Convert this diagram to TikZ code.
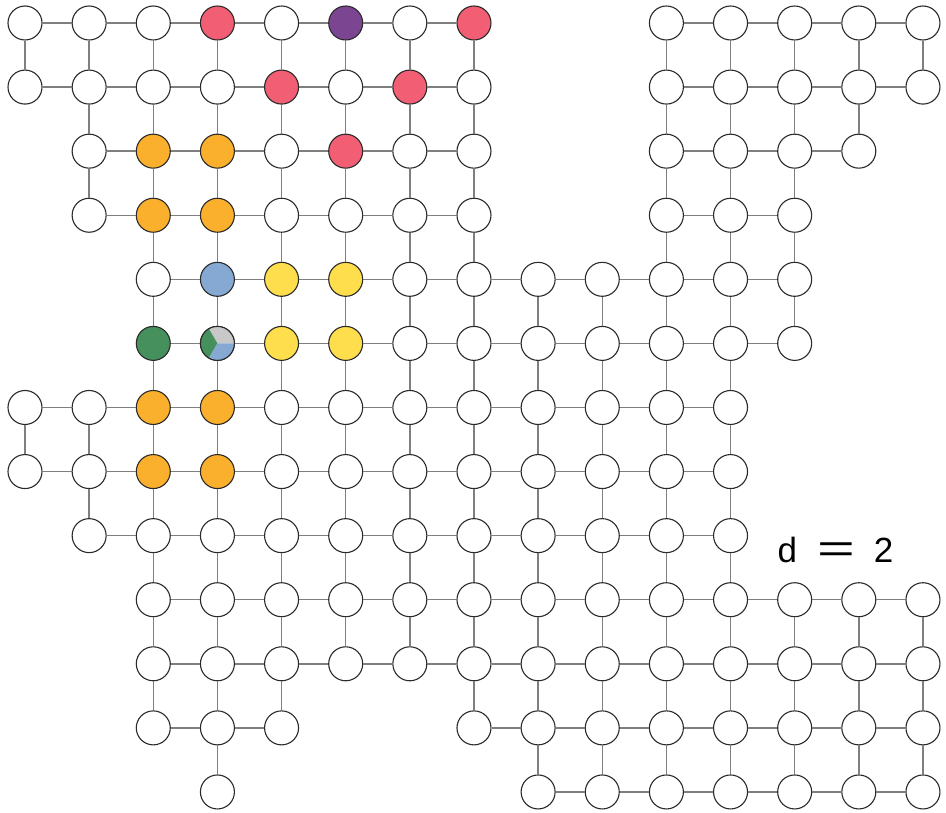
\documentclass[tikz,border=0pt]{standalone}
\usepackage{fontspec}
\newfontfamily\lblfont{Liberation Sans}
\definecolor{pinkc}{HTML}{F25F74}
\definecolor{purplec}{HTML}{7B4592}
\definecolor{orangec}{HTML}{FBB02D}
\definecolor{yellowc}{HTML}{FEDE4C}
\definecolor{bluec}{HTML}{85A9D2}
\definecolor{greenc}{HTML}{46905E}
\definecolor{grayc}{HTML}{C8C8C8}
\definecolor{edgec}{HTML}{7F7F7F}
\definecolor{rimc}{HTML}{2A2A2A}
% colour lookup for special nodes
\expandafter\def\csname fc-0-3\endcsname{pinkc}
\expandafter\def\csname fc-0-5\endcsname{purplec}
\expandafter\def\csname fc-0-7\endcsname{pinkc}
\expandafter\def\csname fc-1-4\endcsname{pinkc}
\expandafter\def\csname fc-1-6\endcsname{pinkc}
\expandafter\def\csname fc-2-5\endcsname{pinkc}
\expandafter\def\csname fc-2-2\endcsname{orangec}
\expandafter\def\csname fc-2-3\endcsname{orangec}
\expandafter\def\csname fc-3-2\endcsname{orangec}
\expandafter\def\csname fc-3-3\endcsname{orangec}
\expandafter\def\csname fc-4-3\endcsname{bluec}
\expandafter\def\csname fc-4-4\endcsname{yellowc}
\expandafter\def\csname fc-4-5\endcsname{yellowc}
\expandafter\def\csname fc-5-2\endcsname{greenc}
\expandafter\def\csname fc-5-4\endcsname{yellowc}
\expandafter\def\csname fc-5-5\endcsname{yellowc}
\expandafter\def\csname fc-6-2\endcsname{orangec}
\expandafter\def\csname fc-6-3\endcsname{orangec}
\expandafter\def\csname fc-7-2\endcsname{orangec}
\expandafter\def\csname fc-7-3\endcsname{orangec}
\tikzset{
  vtx/.style={circle, draw=rimc, line width=1.1pt, minimum size=34pt, inner sep=0pt},
  edge/.style={draw=edgec, line width=1.4pt},
  rim/.style={draw=rimc, line width=1.1pt}
}
\begin{document}
\begin{tikzpicture}[x=1pt,y=-1pt]
\useasboundingbox (0,0) rectangle (946,813);
% nodes
\foreach \r/\a/\b in {0/0/7,0/10/14,1/0/7,1/10/14,2/1/7,2/10/13,3/1/7,3/10/12,4/2/12,5/2/12,6/0/11,7/0/11,8/1/11,9/2/14,10/2/14,11/2/4,11/7/14,12/3/3,12/8/14}{
  \foreach \c in {\a,...,\b}{
    \edef\fc{\ifcsname fc-\r-\c\endcsname\csname fc-\r-\c\endcsname\else white\fi}
    \node[vtx, fill=\fc] (n-\r-\c) at ({25+64.14*\c},{23+64.08*\r}) {};
  }
}
% pie node (y axis points down, so angles are negated)
\fill[grayc] (n-5-3.center) -- ++(0:17) arc[start angle=0, end angle=-120, radius=17] -- cycle;
\fill[greenc] (n-5-3.center) -- ++(-120:17) arc[start angle=-120, end angle=-240, radius=17] -- cycle;
\fill[bluec] (n-5-3.center) -- ++(-240:17) arc[start angle=-240, end angle=-360, radius=17] -- cycle;
\draw[rim] (n-5-3.center) circle[radius=17];
% horizontal edges
\foreach \r/\a/\b in {0/0/7,0/10/14,1/0/7,1/10/14,2/1/7,2/10/13,3/1/7,3/10/12,4/2/12,5/2/12,6/0/11,7/0/11,8/1/11,9/2/14,10/2/14,11/2/4,11/7/14,12/8/14}{
  \pgfmathtruncatemacro\bm{\b-1}
  \foreach \c in {\a,...,\bm}{
    \pgfmathtruncatemacro\cn{\c+1}
    \draw[edge] (n-\r-\c) -- (n-\r-\cn);
  }
}
% vertical edges
\foreach \c/\a/\b in {0/0/1,0/6/7,1/0/3,1/6/8,2/0/11,3/0/12,4/0/11,5/0/10,6/0/10,7/0/11,8/4/12,9/4/12,10/0/12,11/0/12,12/0/5,12/9/12,13/0/2,13/9/12,14/0/1,14/9/12}{
  \pgfmathtruncatemacro\bm{\b-1}
  \foreach \r in {\a,...,\bm}{
    \pgfmathtruncatemacro\rn{\r+1}
    \draw[edge] (n-\r-\c) -- (n-\rn-\c);
  }
}
% label
\node[anchor=base west, inner sep=0pt, font=\lblfont\fontsize{35}{40}\selectfont] (lbl) at (777.5,562) {d\hspace{20pt}\scalebox{1.85}[1.15]{=}\hspace{19pt}2};
\end{tikzpicture}
\end{document}
